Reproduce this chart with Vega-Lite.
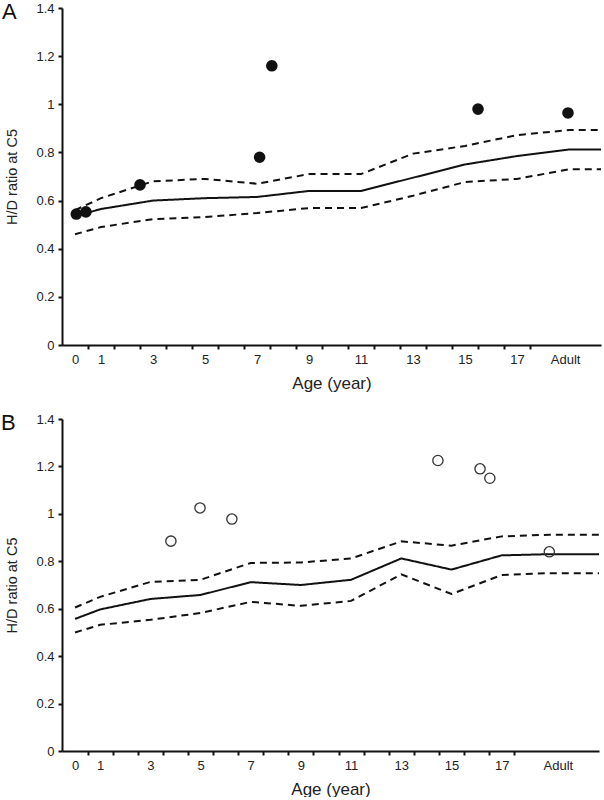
{
  "$schema": "https://vega.github.io/schema/vega-lite/v6.json",
  "padding": {"left": 1, "top": 1, "right": 0, "bottom": 0},
  "background": "white",
  "config": {
    "view": {"stroke": null},
    "font": "Liberation Sans",
    "axis": {
      "grid": false,
      "domainColor": "#111",
      "domainWidth": 2,
      "tickColor": "#111",
      "tickWidth": 2,
      "tickSize": 4,
      "labelFont": "Liberation Sans",
      "labelColor": "#222",
      "labelFontSize": 13,
      "labelFlush": false,
      "labelOverlap": false,
      "titleFont": "Liberation Sans",
      "titleColor": "#222",
      "titleFontWeight": "normal"
    },
    "title": {"font": "Liberation Sans", "fontSize": 22, "fontWeight": "normal", "color": "#111", "anchor": "start", "frame": "group"}
  },
  "datasets": {
    "aLines": [
      {"age": 0, "series": "mean", "value": 0.535},
      {"age": 1, "series": "mean", "value": 0.565},
      {"age": 3, "series": "mean", "value": 0.6},
      {"age": 5, "series": "mean", "value": 0.61},
      {"age": 7, "series": "mean", "value": 0.615},
      {"age": 9, "series": "mean", "value": 0.64},
      {"age": 11, "series": "mean", "value": 0.64},
      {"age": 13, "series": "mean", "value": 0.695},
      {"age": 15, "series": "mean", "value": 0.75},
      {"age": 17, "series": "mean", "value": 0.785},
      {"age": 19, "series": "mean", "value": 0.812},
      {"age": 20.23, "series": "mean", "value": 0.812},
      {"age": 0, "series": "upper", "value": 0.56},
      {"age": 1, "series": "upper", "value": 0.61},
      {"age": 3, "series": "upper", "value": 0.68},
      {"age": 5, "series": "upper", "value": 0.69},
      {"age": 7, "series": "upper", "value": 0.67},
      {"age": 9, "series": "upper", "value": 0.71},
      {"age": 11, "series": "upper", "value": 0.71},
      {"age": 13, "series": "upper", "value": 0.795},
      {"age": 15, "series": "upper", "value": 0.827},
      {"age": 17, "series": "upper", "value": 0.872},
      {"age": 19, "series": "upper", "value": 0.893},
      {"age": 20.23, "series": "upper", "value": 0.893},
      {"age": 0, "series": "lower", "value": 0.46},
      {"age": 1, "series": "lower", "value": 0.49},
      {"age": 3, "series": "lower", "value": 0.523},
      {"age": 5, "series": "lower", "value": 0.532},
      {"age": 7, "series": "lower", "value": 0.548},
      {"age": 9, "series": "lower", "value": 0.569},
      {"age": 11, "series": "lower", "value": 0.569},
      {"age": 13, "series": "lower", "value": 0.62},
      {"age": 15, "series": "lower", "value": 0.677},
      {"age": 17, "series": "lower", "value": 0.69},
      {"age": 19, "series": "lower", "value": 0.73},
      {"age": 20.23, "series": "lower", "value": 0.73}
    ],
    "aPoints": [
      {"age": 0.05, "value": 0.544},
      {"age": 0.42, "value": 0.553},
      {"age": 2.5, "value": 0.665},
      {"age": 7.1, "value": 0.78},
      {"age": 7.57, "value": 1.16},
      {"age": 15.5, "value": 0.98},
      {"age": 18.96, "value": 0.964}
    ],
    "bLines": [
      {"age": 0, "series": "mean", "value": 0.557},
      {"age": 1, "series": "mean", "value": 0.597},
      {"age": 3, "series": "mean", "value": 0.641},
      {"age": 5, "series": "mean", "value": 0.658},
      {"age": 7, "series": "mean", "value": 0.712},
      {"age": 9, "series": "mean", "value": 0.7},
      {"age": 11, "series": "mean", "value": 0.722},
      {"age": 13, "series": "mean", "value": 0.812},
      {"age": 15, "series": "mean", "value": 0.765},
      {"age": 17, "series": "mean", "value": 0.825},
      {"age": 18.9, "series": "mean", "value": 0.83},
      {"age": 20.88, "series": "mean", "value": 0.83},
      {"age": 0, "series": "upper", "value": 0.605},
      {"age": 1, "series": "upper", "value": 0.65},
      {"age": 3, "series": "upper", "value": 0.713},
      {"age": 5, "series": "upper", "value": 0.722},
      {"age": 7, "series": "upper", "value": 0.793},
      {"age": 9, "series": "upper", "value": 0.795},
      {"age": 11, "series": "upper", "value": 0.812},
      {"age": 13, "series": "upper", "value": 0.884},
      {"age": 15, "series": "upper", "value": 0.866},
      {"age": 17, "series": "upper", "value": 0.905},
      {"age": 18.9, "series": "upper", "value": 0.912},
      {"age": 20.88, "series": "upper", "value": 0.912},
      {"age": 0, "series": "lower", "value": 0.5},
      {"age": 1, "series": "lower", "value": 0.532},
      {"age": 3, "series": "lower", "value": 0.553},
      {"age": 5, "series": "lower", "value": 0.582},
      {"age": 7, "series": "lower", "value": 0.629},
      {"age": 9, "series": "lower", "value": 0.612},
      {"age": 11, "series": "lower", "value": 0.633},
      {"age": 13, "series": "lower", "value": 0.745},
      {"age": 15, "series": "lower", "value": 0.662},
      {"age": 17, "series": "lower", "value": 0.742},
      {"age": 18.9, "series": "lower", "value": 0.75},
      {"age": 20.88, "series": "lower", "value": 0.75}
    ],
    "bPoints": [
      {"age": 3.82, "value": 0.885},
      {"age": 4.98, "value": 1.025},
      {"age": 6.25, "value": 0.978},
      {"age": 14.46, "value": 1.225},
      {"age": 16.14, "value": 1.19},
      {"age": 16.53, "value": 1.15},
      {"age": 18.9, "value": 0.84}
    ]
  },
  "bounds": "flush",
  "spacing": 74,
  "vconcat": [
    {
      "width": 539,
      "height": 337,
      "title": {"text": "A", "offset": -22, "dx": -60},
      "resolve": {"axis": {"x": "independent"}},
      "layer": [
        {
          "data": {"name": "aLines"},
          "mark": {"type": "line", "color": "#111", "strokeWidth": 2},
          "encoding": {
            "x": {"field": "age", "type": "quantitative",
              "scale": {"domain": [-0.5, 20.23], "nice": false, "zero": false},
              "axis": {
                "orient": "bottom", "title": null, "labels": false,
                "values": [0.5, 1.5, 2.5, 3.5, 4.5, 5.5, 6.5, 7.5, 8.5, 9.5, 10.5, 11.5, 12.5, 13.5, 14.5, 15.5, 16.5, 17.5]
              }},
            "y": {"field": "value", "type": "quantitative",
              "scale": {"domain": [0, 1.4], "nice": false},
              "axis": {
                "title": "H/D ratio at C5", "titleFontSize": 14.5, "titlePadding": 16, "labelPadding": 4,
                "values": [0, 0.2, 0.4, 0.6, 0.8, 1, 1.2, 1.4],
                "labelExpr": "format(datum.value, '~g')"
              }},
            "detail": {"field": "series"},
            "strokeDash": {"field": "series", "type": "nominal",
              "scale": {"domain": ["mean", "upper", "lower"], "range": [[1, 0], [7, 5], [7, 5]]},
              "legend": null}
          }
        },
        {
          "data": {"name": "aPoints"},
          "mark": {"type": "point", "shape": "circle", "filled": true, "color": "#111", "opacity": 1, "size": 135},
          "encoding": {
            "x": {"field": "age", "type": "quantitative",
              "axis": {
                "orient": "bottom", "title": "Age (year)", "titleFontSize": 17, "titlePadding": 9,
                "domain": false, "ticks": false, "labelPadding": 8,
                "values": [0, 1, 3, 5, 7, 9, 11, 13, 15, 17, 18.85],
                "labelExpr": "datum.value > 18 ? 'Adult' : format(datum.value, 'd')"
              }},
            "y": {"field": "value", "type": "quantitative",
              "axis": {
                "title": "H/D ratio at C5", "titleFontSize": 14.5, "titlePadding": 16, "labelPadding": 4,
                "values": [0, 0.2, 0.4, 0.6, 0.8, 1, 1.2, 1.4],
                "labelExpr": "format(datum.value, '~g')"
              }}
          }
        }
      ]
    },
    {
      "width": 537,
      "height": 332,
      "title": {"text": "B", "offset": -22, "dx": -61},
      "resolve": {"axis": {"x": "independent"}},
      "layer": [
        {
          "data": {"name": "bLines"},
          "mark": {"type": "line", "color": "#111", "strokeWidth": 2},
          "encoding": {
            "x": {"field": "age", "type": "quantitative",
              "scale": {"domain": [-0.52, 20.88], "nice": false, "zero": false},
              "axis": {
                "orient": "bottom", "title": null, "labels": false,
                "values": [0.5, 1.5, 2.5, 3.5, 4.5, 5.5, 6.5, 7.5, 8.5, 9.5, 10.5, 11.5, 12.5, 13.5, 14.5, 15.5, 16.5, 17.5]
              }},
            "y": {"field": "value", "type": "quantitative",
              "scale": {"domain": [0, 1.4], "nice": false},
              "axis": {
                "title": "H/D ratio at C5", "titleFontSize": 14.5, "titlePadding": 16, "labelPadding": 4,
                "values": [0, 0.2, 0.4, 0.6, 0.8, 1, 1.2, 1.4],
                "labelExpr": "format(datum.value, '~g')"
              }},
            "detail": {"field": "series"},
            "strokeDash": {"field": "series", "type": "nominal",
              "scale": {"domain": ["mean", "upper", "lower"], "range": [[1, 0], [7, 5], [7, 5]]},
              "legend": null}
          }
        },
        {
          "data": {"name": "bPoints"},
          "mark": {"type": "point", "shape": "circle", "filled": false, "color": "#333", "strokeWidth": 1.3, "opacity": 1, "size": 105},
          "encoding": {
            "x": {"field": "age", "type": "quantitative",
              "axis": {
                "orient": "bottom", "title": "Age (year)", "titleFontSize": 17, "titlePadding": 9,
                "domain": false, "ticks": false, "labelPadding": 8,
                "values": [0, 1, 3, 5, 7, 9, 11, 13, 15, 17, 19.24],
                "labelExpr": "datum.value > 18 ? 'Adult' : format(datum.value, 'd')"
              }},
            "y": {"field": "value", "type": "quantitative",
              "axis": {
                "title": "H/D ratio at C5", "titleFontSize": 14.5, "titlePadding": 16, "labelPadding": 4,
                "values": [0, 0.2, 0.4, 0.6, 0.8, 1, 1.2, 1.4],
                "labelExpr": "format(datum.value, '~g')"
              }}
          }
        }
      ]
    }
  ]
}
